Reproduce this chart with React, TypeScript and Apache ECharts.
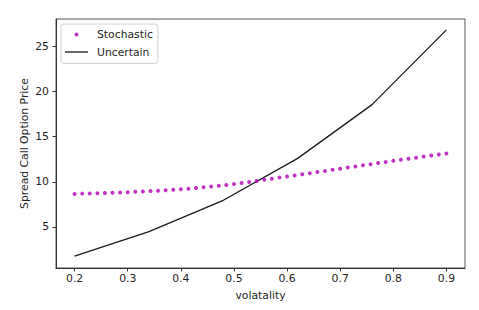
import React, { useEffect, useRef } from "react";
import * as echarts from "echarts";

const stochasticX = [
  0.2, 0.2143, 0.2286, 0.2429, 0.2571, 0.2714, 0.2857, 0.3, 0.3143, 0.3286,
  0.3429, 0.3571, 0.3714, 0.3857, 0.4, 0.4143, 0.4286, 0.4429, 0.4571, 0.4714,
  0.4857, 0.5, 0.5143, 0.5286, 0.5429, 0.5571, 0.5714, 0.5857, 0.6, 0.6143,
  0.6286, 0.6429, 0.6571, 0.6714, 0.6857, 0.7, 0.7143, 0.7286, 0.7429, 0.7571,
  0.7714, 0.7857, 0.8, 0.8143, 0.8286, 0.8429, 0.8571, 0.8714, 0.8857, 0.9,
];
const stochasticY = [
  8.66, 8.69, 8.71, 8.73, 8.75, 8.78, 8.81, 8.85, 8.89, 8.93,
  8.97, 9.02, 9.07, 9.12, 9.17, 9.24, 9.31, 9.39, 9.47, 9.56,
  9.65, 9.75, 9.86, 9.98, 10.1, 10.22, 10.35, 10.47, 10.59, 10.71,
  10.83, 10.95, 11.08, 11.2, 11.33, 11.45, 11.58, 11.7, 11.83, 11.95,
  12.08, 12.2, 12.33, 12.45, 12.57, 12.68, 12.8, 12.91, 13.03, 13.14,
];
const uncertainX = [0.2, 0.34, 0.48, 0.62, 0.76, 0.9];
const uncertainY = [1.76, 4.48, 7.95, 12.6, 18.56, 26.85];

const xTicks = [0.2, 0.3, 0.4, 0.5, 0.6, 0.7, 0.8, 0.9];
const yTicks = [5, 10, 15, 20, 25];

const FONT = "DejaVu Sans";

export default function App() {
  const ref = useRef<HTMLDivElement>(null);
  useEffect(() => {
    if (!ref.current) return;
    const chart = echarts.init(ref.current, null, { renderer: "svg" });
    chart.setOption({
      animation: false,
      backgroundColor: "#ffffff",
      textStyle: { fontFamily: FONT },
      grid: {
        left: 56,
        right: 14,
        top: 19,
        bottom: 42,
        show: true,
        borderColor: "#555",
        borderWidth: 1,
      },
      legend: {
        orient: "vertical",
        left: 61,
        top: 24,
        padding: [4, 5, 5, 4],
        itemGap: 4.5,
        itemWidth: 23,
        itemHeight: 4,
        backgroundColor: "#fff",
        borderColor: "#d0d0d0",
        borderWidth: 1,
        borderRadius: 3,
        textStyle: {
          fontFamily: FONT,
          fontSize: 10.8,
          color: "#1e1e1e",
          lineHeight: 13,
          padding: [0, 0, 0, 4],
        },
        data: [
          { name: "Stochastic", icon: "circle" },
          {
            name: "Uncertain",
            icon: "path://M0,0 M23,4 M0,1.35 L23,1.35 L23,2.65 L0,2.65 Z",
          },
        ],
      },
      xAxis: {
        type: "value",
        min: 0.165,
        max: 0.935,
        name: "volatality",
        nameLocation: "middle",
        nameGap: 22,
        nameMoveOverlap: false,
        nameTextStyle: { fontFamily: FONT, fontSize: 10.8, color: "#1e1e1e" },
        splitLine: { show: false },
        axisLine: { show: true, lineStyle: { color: "#333", width: 1 } },
        axisTick: {
          show: true,
          inside: false,
          length: 3.5,
          lineStyle: { color: "#333" },
          customValues: xTicks,
        },
        axisLabel: {
          fontFamily: FONT,
          fontSize: 10.8,
          color: "#1e1e1e",
          margin: 4.5,
          customValues: xTicks,
          formatter: (v: number) => v.toFixed(1),
        },
      },
      yAxis: {
        type: "value",
        min: 0.44,
        max: 28.06,
        name: "Spread Call Option Price",
        nameLocation: "middle",
        nameRotate: 90,
        nameGap: 26,
        nameMoveOverlap: false,
        nameTextStyle: { fontFamily: FONT, fontSize: 10.8, color: "#1e1e1e" },
        splitLine: { show: false },
        axisLine: { show: true, lineStyle: { color: "#333", width: 1 } },
        axisTick: {
          show: true,
          inside: false,
          length: 3.5,
          lineStyle: { color: "#333" },
          customValues: yTicks,
        },
        axisLabel: {
          fontFamily: FONT,
          fontSize: 10.8,
          color: "#1e1e1e",
          margin: 7,
          customValues: yTicks,
          formatter: (v: number) => String(Math.round(v)),
        },
      },
      series: [
        {
          name: "Stochastic",
          type: "scatter",
          symbol: "circle",
          symbolSize: 4,
          itemStyle: { color: "#b400b4" },
          data: stochasticX.map((x, i) => [x, stochasticY[i]]),
          z: 3,
        },
        {
          name: "Uncertain",
          type: "line",
          showSymbol: false,
          symbol: "none",
          lineStyle: { color: "#1a1a1a", width: 1.3 },
          itemStyle: { color: "#1a1a1a" },
          data: uncertainX.map((x, i) => [x, uncertainY[i]]),
          z: 2,
        },
      ],
    });
    return () => chart.dispose();
  }, []);
  return (
    <div
      ref={ref}
      style={{ position: "fixed", left: 0, top: 0, width: 479, height: 310 }}
    />
  );
}
